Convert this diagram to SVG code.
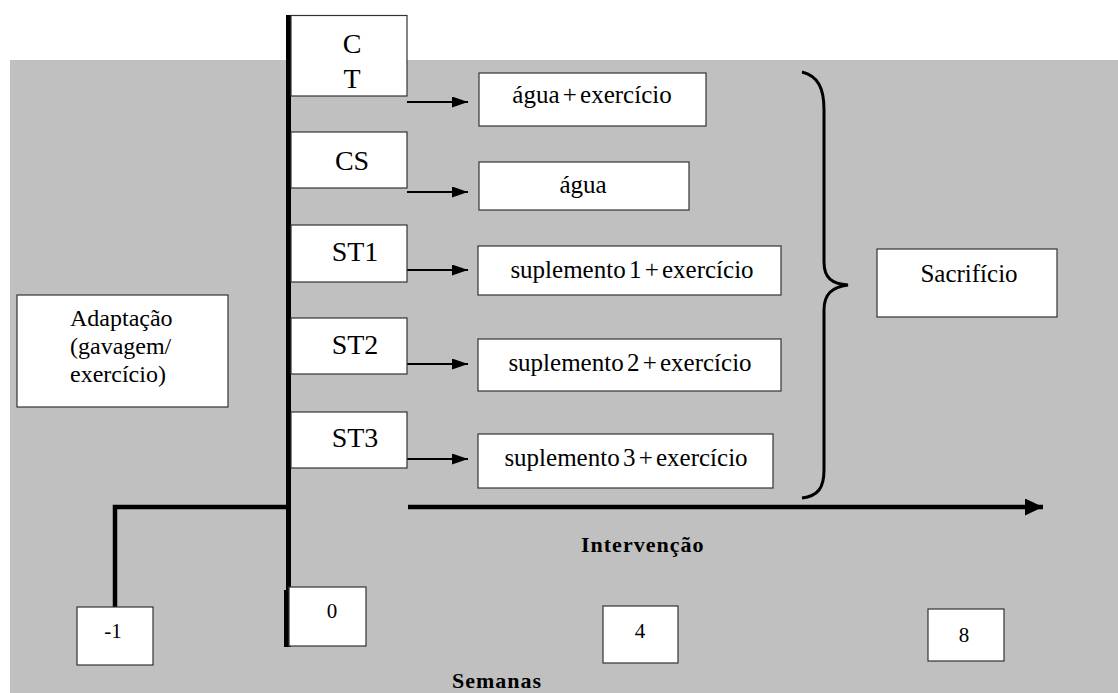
<svg xmlns="http://www.w3.org/2000/svg" width="1118" height="693" viewBox="0 0 1118 693">
<style>
.box{fill:#fff;stroke:#333;stroke-width:1.2}
text{font-family:'Liberation Serif','Tinos','Times New Roman','Noto Serif','DejaVu Serif',serif;fill:#000}
.big{font-size:28px;text-anchor:middle}
.mid{font-size:25px;text-anchor:middle;word-spacing:-3px}
.num{font-size:21px;text-anchor:middle}
.bold{font-weight:bold;font-size:22px;letter-spacing:1px}
.conn{stroke:#000;fill:none}
</style>
<defs>
<marker id="ah" markerUnits="userSpaceOnUse" markerWidth="16" markerHeight="11" refX="16" refY="5.5" orient="auto">
<path d="M0,0 L16,5.5 L0,11 z" fill="#000"/>
</marker>
<marker id="ahBig" markerUnits="userSpaceOnUse" markerWidth="18" markerHeight="17" refX="18" refY="8.5" orient="auto">
<path d="M0,0 L18,8.5 L0,17 z" fill="#000"/>
</marker>
</defs>
<rect x="10" y="60" width="1108" height="633" fill="#c0c0c0"/>

<g id="connectors">
<line class="conn" x1="288.5" y1="15" x2="288.5" y2="647" stroke-width="5"/>
<line class="conn" x1="286" y1="590" x2="286" y2="647" stroke-width="4"/>
<polyline class="conn" points="288,507 115,507 115,607" stroke-width="4.5"/>
<line class="conn" x1="407" y1="102" x2="468" y2="102" stroke-width="2" marker-end="url(#ah)"/>
<line class="conn" x1="407" y1="192" x2="468" y2="192" stroke-width="2" marker-end="url(#ah)"/>
<line class="conn" x1="407" y1="270" x2="468" y2="270" stroke-width="2" marker-end="url(#ah)"/>
<line class="conn" x1="407" y1="364" x2="468" y2="364" stroke-width="2" marker-end="url(#ah)"/>
<line class="conn" x1="407" y1="459" x2="468" y2="459" stroke-width="2" marker-end="url(#ah)"/>
<line class="conn" x1="408" y1="507" x2="1043" y2="507" stroke-width="4.5" marker-end="url(#ahBig)"/>
<path class="conn" stroke-width="3" d="M802,72 C818,76 824,88 824,110 L824,262 C824,278 832,284 848,285 C832,287 824,294 824,310 L824,470 C824,488 818,496 802,498"/>
</g>

<g id="node-ct">
<rect class="box" x="291" y="15.5" width="116" height="80.5"/>
<text class="big" x="352" y="53">C</text>
<text class="big" x="352" y="88">T</text>
</g>
<g id="node-cs">
<rect class="box" x="291" y="132" width="116" height="56"/>
<text class="big" x="352" y="170">CS</text>
</g>
<g id="node-st1">
<rect class="box" x="291" y="225" width="116" height="57"/>
<text class="big" x="355" y="261">ST1</text>
</g>
<g id="node-st2">
<rect class="box" x="291" y="318" width="116" height="56"/>
<text class="big" x="355" y="354">ST2</text>
</g>
<g id="node-st3">
<rect class="box" x="291" y="412" width="116" height="56"/>
<text class="big" x="355" y="447">ST3</text>
</g>

<g id="node-agua-exercicio">
<rect class="box" x="479" y="73" width="227" height="53"/>
<text class="mid" x="592" y="103">água + exercício</text>
</g>
<g id="node-agua">
<rect class="box" x="479" y="162" width="210" height="48"/>
<text class="mid" x="583" y="193">água</text>
</g>
<g id="node-sup1">
<rect class="box" x="478" y="246" width="303" height="49"/>
<text class="mid" x="632" y="278">suplemento 1 + exercício</text>
</g>
<g id="node-sup2">
<rect class="box" x="478" y="339" width="303" height="52"/>
<text class="mid" x="630" y="371">suplemento 2 + exercício</text>
</g>
<g id="node-sup3">
<rect class="box" x="478" y="434" width="295" height="54"/>
<text class="mid" x="626" y="466">suplemento 3 + exercício</text>
</g>

<g id="node-sacrificio">
<rect class="box" x="877" y="249" width="180" height="68"/>
<text class="mid" x="969" y="282">Sacrifício</text>
</g>

<g id="node-adaptacao">
<rect class="box" x="17" y="295" width="211" height="112"/>
<text font-size="24" x="70" y="326">Adaptação</text>
<text font-size="24" x="70" y="354">(gavagem/</text>
<text font-size="24" x="70" y="382">exercício)</text>
</g>

<g id="node-m1">
<rect class="box" x="77" y="607" width="76" height="58"/>
<text class="num" x="113" y="638">-1</text>
</g>
<g id="node-0">
<rect class="box" x="289" y="587" width="77" height="59"/>
<text class="num" x="332" y="618">0</text>
</g>
<g id="node-4">
<rect class="box" x="603" y="606" width="75" height="57"/>
<text class="num" x="640" y="638">4</text>
</g>
<g id="node-8">
<rect class="box" x="928" y="609" width="76" height="52"/>
<text class="num" x="964" y="642">8</text>
</g>

<text class="bold" x="581" y="552">Intervenção</text>
<text class="bold" x="452" y="688">Semanas</text>
</svg>
